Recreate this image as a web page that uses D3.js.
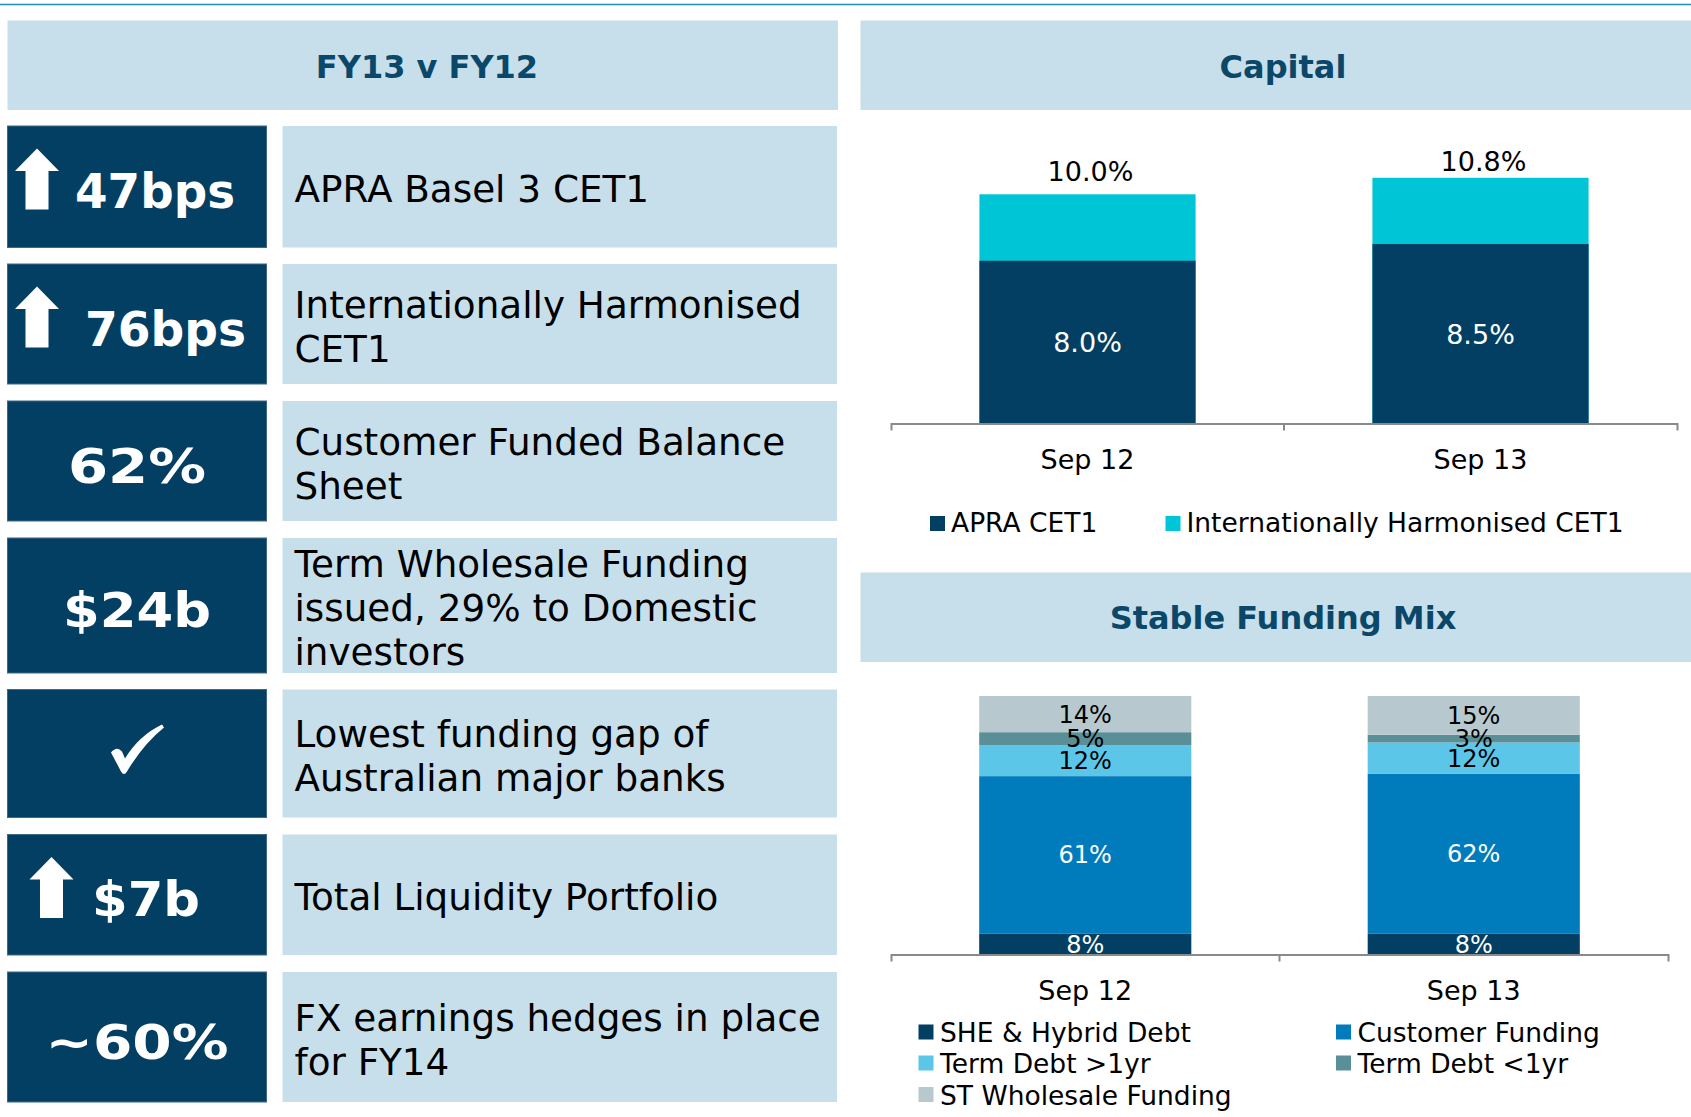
<!DOCTYPE html>
<html><head><meta charset="utf-8">
<script src="https://cdn.jsdelivr.net/npm/d3@7"></script>
<style>
body{margin:0;background:#fff}
svg{display:block}
text{font-family:"DejaVu Sans",Verdana,sans-serif}
</style>
</head><body><svg id="c" width="1691" height="1117"></svg>
<script>
// ---------------- DATA ----------------
const summaryValues = ["47bps", "76bps", "62%", "$24b", "check", "$7b", "~60%"];
const summaryUpArrow = [true, true, false, false, false, true, false];
const summaryText = [
  ["APRA Basel 3 CET1"],
  ["Internationally Harmonised", "CET1"],
  ["Customer Funded Balance", "Sheet"],
  ["Term Wholesale Funding", "issued, 29% to Domestic", "investors"],
  ["Lowest funding gap of", "Australian major banks"],
  ["Total Liquidity Portfolio"],
  ["FX earnings hedges in place", "for FY14"]
];

const capitalCategories = ["Sep 12", "Sep 13"];
const capitalSeries = ["APRA CET1", "Internationally Harmonised CET1"];
const apraCet1Drawn = [7.1, 7.83];          // height of dark segment as drawn
const apraCet1Labels = ["8.0%", "8.5%"];
const ihCet1Drawn = [10.0, 10.72];          // total bar height as drawn
const ihCet1Labels = ["10.0%", "10.8%"];

const fundingCategories = ["Sep 12", "Sep 13"];
const fundingSeries = ["SHE & Hybrid Debt", "Customer Funding", "Term Debt >1yr", "Term Debt <1yr", "ST Wholesale Funding"];
const sheHybridDebt = [8, 8];
const customerFunding = [61, 62];
const termDebtOver1yr = [12, 12];
const termDebtUnder1yr = [5, 3];
const stWholesaleFunding = [14, 15];

// ---------------- STYLE / LAYOUT ----------------
const C = {
  navy: "#023f62", panel: "#c7dfea", title: "#0b4769", cyan: "#00c5d6",
  blue: "#007bbb", lblue: "#5bc6e8", teal: "#5a8f98", grey: "#b8c8cf", axis: "#8a8a8a"
};
const rowBounds = [[126, 247.5], [264, 384], [401, 521], [538, 673], [689.5, 817.5], [834.5, 955], [972, 1102]];
const arrowX = [15, 15, null, null, null, 29.5];
const valueX = [75, 85, null, null, null, 92];
const valueWidth = [160, 161, 138, 148, null, 108, 183];
const capLabelGap = [13.5, 7];

const svg = d3.select("#c");

// top rule
svg.append("line").attr("x1", 0).attr("x2", 1691).attr("y1", 4.5).attr("y2", 4.5)
  .attr("stroke", "#1f8cc5").attr("stroke-width", 1.5);

// ---------------- LEFT PANEL ----------------
svg.append("rect").attr("x", 7.5).attr("y", 20.5).attr("width", 830.5).attr("height", 89.5).attr("fill", C.panel);
svg.append("text").attr("x", 427).attr("y", 77.5).attr("text-anchor", "middle")
  .attr("font-size", 32).attr("font-weight", "bold").attr("fill", C.title).text("FY13 v FY12");

const rows = svg.append("g").selectAll("g").data(summaryValues).join("g");
rows.each(function (v, i) {
  const g = d3.select(this);
  const [t, b] = rowBounds[i];
  const cy = (t + b) / 2;
  g.append("rect").attr("x", 7.5).attr("y", t).attr("width", 259).attr("height", b - t)
    .attr("fill", C.navy).attr("stroke", "#3e6886").attr("stroke-width", 1);
  g.append("rect").attr("x", 282.5).attr("y", t).attr("width", 554.5).attr("height", b - t).attr("fill", C.panel);
  if (summaryUpArrow[i]) {
    const ax = arrowX[i], at = t + 22.5;
    g.append("path").attr("fill", "#fff")
      .attr("d", `M${ax + 22},${at} L${ax + 44},${at + 22.5} L${ax + 33.5},${at + 22.5} L${ax + 33.5},${at + 61} L${ax + 10.5},${at + 61} L${ax + 10.5},${at + 22.5} L${ax},${at + 22.5} Z`);
    g.append("text").attr("x", valueX[i]).attr("y", cy + 21.5).attr("font-size", 48).attr("font-weight", "bold")
      .attr("textLength", valueWidth[i]).attr("lengthAdjust", "spacingAndGlyphs")
      .attr("fill", "#fff").text(v);
  } else if (v === "check") {
    const cx = 137, cc = cy - 4;
    g.append("path").attr("fill", "#fff")
      .attr("d", `M${cx - 26},${cc + 3} Q${cx - 20},${cc - 4} ${cx - 15},${cc + 2} L${cx - 12},${cc + 9}
        Q${cx + 2},${cc - 14} ${cx + 25},${cc - 25} L${cx + 27},${cc - 22}
        Q${cx + 6},${cc - 5} ${cx - 10},${cc + 22} Q${cx - 13},${cc + 27} ${cx - 16},${cc + 22} Z`);
  } else {
    g.append("text").attr("x", 137).attr("y", cy + 21.5).attr("text-anchor", "middle").attr("font-size", 48)
      .attr("textLength", valueWidth[i]).attr("lengthAdjust", "spacingAndGlyphs")
      .attr("font-weight", "bold").attr("fill", "#fff").text(v);
  }
  const lines = summaryText[i];
  const lh = 44;
  const base0 = cy + 15.5 - (lines.length - 1) * lh / 2;
  lines.forEach((ln, k) => {
    g.append("text").attr("x", 294.5).attr("y", base0 + k * lh).attr("font-size", 37.3).attr("fill", "#000").text(ln);
  });
});

// ---------------- CAPITAL ----------------
svg.append("rect").attr("x", 860.5).attr("y", 20.5).attr("width", 831).attr("height", 89.5).attr("fill", C.panel);
svg.append("text").attr("x", 1283).attr("y", 77.5).attr("text-anchor", "middle")
  .attr("font-size", 32).attr("font-weight", "bold").attr("fill", C.title).text("Capital");

const xC = d3.scaleBand().domain(capitalCategories).range([891, 1677]).padding(0);
const yC = d3.scaleLinear().domain([0, 12]).range([423.5, 423.5 - 12 * 22.92]);
const barWC = xC.bandwidth() * 0.55;
const cap = svg.append("g");
capitalCategories.forEach((c, i) => {
  const x0 = xC(c) + (xC.bandwidth() - barWC) / 2;
  cap.append("rect").attr("x", x0).attr("y", yC(ihCet1Drawn[i])).attr("width", barWC)
    .attr("height", yC(0) - yC(ihCet1Drawn[i])).attr("fill", C.cyan);
  cap.append("rect").attr("x", x0).attr("y", yC(apraCet1Drawn[i])).attr("width", barWC)
    .attr("height", yC(0) - yC(apraCet1Drawn[i])).attr("fill", C.navy);
  cap.append("text").attr("x", x0 + barWC / 2).attr("y", (yC(apraCet1Drawn[i]) + yC(0)) / 2 + 10)
    .attr("text-anchor", "middle").attr("font-size", 27).attr("fill", "#fff").text(apraCet1Labels[i]);
  cap.append("text").attr("x", x0 + barWC / 2 + 3).attr("y", yC(ihCet1Drawn[i]) - capLabelGap[i])
    .attr("text-anchor", "middle").attr("font-size", 27).attr("fill", "#000").text(ihCet1Labels[i]);
});
const axC = svg.append("g").attr("transform", `translate(0,${yC(0)})`)
  .call(d3.axisBottom(xC).tickSizeInner(0).tickSizeOuter(7).tickPadding(26));
axC.select(".domain").attr("stroke", C.axis).attr("stroke-width", 2);
axC.selectAll("text").attr("font-size", 27).attr("fill", "#000").attr("font-family", '"DejaVu Sans",Verdana,sans-serif');
axC.append("line").attr("x1", xC(capitalCategories[1])).attr("x2", xC(capitalCategories[1]))
  .attr("y1", 0).attr("y2", 7).attr("stroke", C.axis).attr("stroke-width", 2);

const capColors = [C.navy, C.cyan];
const capLegX = [930, 1165.5];
capitalSeries.forEach((s, i) => {
  svg.append("rect").attr("x", capLegX[i]).attr("y", 516).attr("width", 15).attr("height", 15).attr("fill", capColors[i]);
  svg.append("text").attr("x", capLegX[i] + 21).attr("y", 532).attr("font-size", 26.5).attr("fill", "#000").text(s);
});

// ---------------- STABLE FUNDING MIX ----------------
svg.append("rect").attr("x", 860.5).attr("y", 572.5).attr("width", 831).attr("height", 89.5).attr("fill", C.panel);
svg.append("text").attr("x", 1283).attr("y", 629).attr("text-anchor", "middle")
  .attr("font-size", 32).attr("font-weight", "bold").attr("fill", C.title).text("Stable Funding Mix");

const fundingValues = [sheHybridDebt, customerFunding, termDebtOver1yr, termDebtUnder1yr, stWholesaleFunding];
const fundingColors = [C.navy, C.blue, C.lblue, C.teal, C.grey];
const fundingLabelColors = ["#fff", "#fff", "#000", "#000", "#000"];
const table = fundingCategories.map((c, i) => {
  const o = { cat: c };
  fundingSeries.forEach((s, k) => o[s] = fundingValues[k][i]);
  return o;
});
const stackF = d3.stack().keys(fundingSeries)(table);
const xF = d3.scaleBand().domain(fundingCategories).range([891, 1668]).padding(0);
const yF = d3.scaleLinear().domain([0, 100]).range([954.5, 696]);
const barWF = xF.bandwidth() * 0.546;
const fgBars = svg.append("g");
const fgLabels = svg.append("g");
stackF.forEach((layer, k) => {
  fgBars.append("g").selectAll("rect").data(layer).join("rect")
    .attr("x", d => xF(d.data.cat) + (xF.bandwidth() - barWF) / 2)
    .attr("y", d => yF(d[1])).attr("width", barWF).attr("height", d => yF(d[0]) - yF(d[1]))
    .attr("fill", fundingColors[k]);
  fgLabels.append("g").selectAll("text").data(layer).join("text")
    .attr("x", d => xF(d.data.cat) + xF.bandwidth() / 2)
    .attr("y", d => (yF(d[0]) + yF(d[1])) / 2 + 8.5)
    .attr("text-anchor", "middle").attr("font-size", 24).attr("fill", fundingLabelColors[k])
    .text(d => (d[1] - d[0]) + "%");
});
const axF = svg.append("g").attr("transform", `translate(0,${yF(0)})`)
  .call(d3.axisBottom(xF).tickSizeInner(0).tickSizeOuter(7).tickPadding(26));
axF.select(".domain").attr("stroke", C.axis).attr("stroke-width", 2);
axF.selectAll("text").attr("font-size", 27).attr("fill", "#000").attr("font-family", '"DejaVu Sans",Verdana,sans-serif');
axF.append("line").attr("x1", xF(fundingCategories[1])).attr("x2", xF(fundingCategories[1]))
  .attr("y1", 0).attr("y2", 7).attr("stroke", C.axis).attr("stroke-width", 2);

const legPos = [[918.5, 1042], [1336, 1042], [918.5, 1073], [1336, 1073], [918.5, 1104.5]];
fundingSeries.forEach((s, k) => {
  const [lx, ly] = legPos[k];
  svg.append("rect").attr("x", lx).attr("y", ly - 17.5).attr("width", 15).attr("height", 15).attr("fill", fundingColors[k]);
  svg.append("text").attr("x", lx + 21.5).attr("y", ly).attr("font-size", 26.5).attr("fill", "#000").text(s);
});
</script>
</body></html>
